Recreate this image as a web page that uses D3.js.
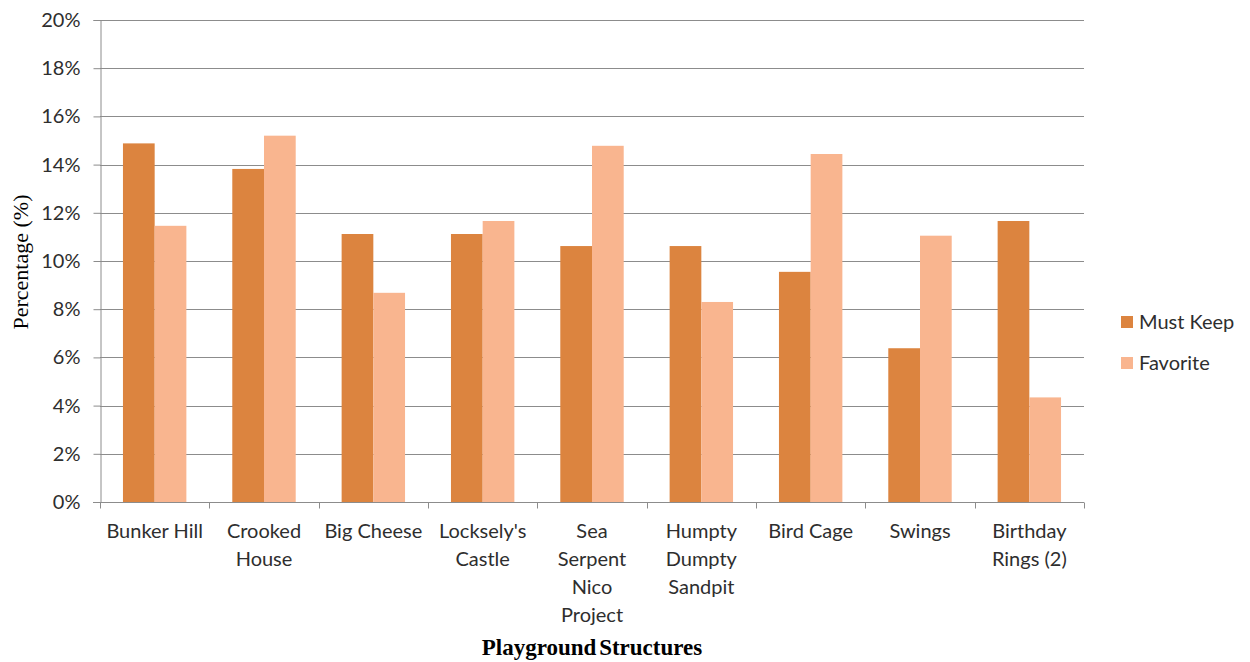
<!DOCTYPE html>
<html>
<head>
<meta charset="utf-8">
<script src="https://cdn.jsdelivr.net/npm/d3@7"></script>
<style>
  body { margin: 0; background: #fff; }
</style>
</head>
<body>
<svg id="chart" width="1250" height="662"></svg>
<script>
var categories = [
    ["Bunker Hill"],
    ["Crooked", "House"],
    ["Big Cheese"],
    ["Locksely's", "Castle"],
    ["Sea", "Serpent", "Nico", "Project"],
    ["Humpty", "Dumpty", "Sandpit"],
    ["Bird Cage"],
    ["Swings"],
    ["Birthday", "Rings (2)"]
];
var seriesNames = ["Must Keep", "Favorite"];
var mustKeep = [14.88, 13.82, 11.12, 11.12, 10.62, 10.62, 9.55, 6.38, 11.66];
var favorite = [11.46, 15.2, 8.68, 11.66, 14.78, 8.3, 14.44, 11.05, 4.34];
var colors = ["#dc843f", "#f9b58f"];
var yTicks = [0, 2, 4, 6, 8, 10, 12, 14, 16, 18, 20];

var labelFont = "Lato, 'Open Sans', sans-serif";
var textColor = "#2e2e2e";
var lineColor = "#8c8c8c";

var svg = d3.select("#chart");
var margin = {left: 100, top: 20, right: 1084, bottom: 502};

var x = d3.scaleBand()
    .domain(d3.range(categories.length))
    .range([margin.left, margin.right])
    .paddingInner(0.42)
    .paddingOuter(0.21);

var xs = d3.scaleBand()
    .domain([0, 1])
    .range([0, x.bandwidth()]);

var y = d3.scaleLinear()
    .domain([0, 20])
    .range([margin.bottom, margin.top]);

// gridlines
svg.append("g")
    .selectAll("line")
    .data(yTicks.slice(1))
    .enter().append("line")
    .attr("x1", margin.left)
    .attr("x2", margin.right)
    .attr("y1", function(d) { return Math.round(y(d)) + 0.5; })
    .attr("y2", function(d) { return Math.round(y(d)) + 0.5; })
    .attr("stroke", lineColor)
    .attr("stroke-width", 1);

// bars
var groups = svg.append("g")
    .selectAll("g")
    .data(categories)
    .enter().append("g")
    .attr("transform", function(d, i) { return "translate(" + x(i) + ",0)"; });

groups.selectAll("rect")
    .data(function(d, i) { return [mustKeep[i], favorite[i]]; })
    .enter().append("rect")
    .attr("x", function(d, j) { return xs(j); })
    .attr("width", xs.bandwidth())
    .attr("y", function(d) { return y(d); })
    .attr("height", function(d) { return y(0) - y(d); })
    .attr("fill", function(d, j) { return colors[j]; });

// y axis
var yAxis = svg.append("g")
    .attr("transform", "translate(" + (margin.left + 0.5) + ",0)")
    .call(d3.axisLeft(y).tickValues(yTicks).tickSize(7).tickPadding(13)
        .tickFormat(function(d) { return d + "%"; }));
yAxis.select(".domain").attr("stroke", lineColor);
yAxis.selectAll(".tick line").attr("stroke", lineColor);
yAxis.selectAll(".tick text")
    .style("font-family", labelFont)
    .style("font-size", "20px")
    .attr("fill", textColor);

// x axis
var xAxis = svg.append("g")
    .attr("transform", "translate(0," + (margin.bottom + 0.5) + ")");
xAxis.append("line")
    .attr("x1", margin.left - 7)
    .attr("x2", margin.right)
    .attr("stroke", lineColor);
xAxis.selectAll(".xt")
    .data(d3.range(categories.length + 1))
    .enter().append("line")
    .attr("class", "xt")
    .attr("x1", function(i) { return Math.round(margin.left + i * x.step()) + 0.5; })
    .attr("x2", function(i) { return Math.round(margin.left + i * x.step()) + 0.5; })
    .attr("y1", 0)
    .attr("y2", 6)
    .attr("stroke", lineColor);

var labels = xAxis.selectAll(".xl")
    .data(categories)
    .enter().append("text")
    .attr("class", "xl")
    .attr("text-anchor", "middle")
    .attr("fill", textColor)
    .style("font-family", labelFont)
    .style("font-size", "20px")
    .attr("transform", function(d, i) { return "translate(" + (x(i) + x.bandwidth() / 2) + ",0)"; });
labels.selectAll("tspan")
    .data(function(d) { return d; })
    .enter().append("tspan")
    .attr("x", 0)
    .attr("y", function(d, k) { return 35 + k * 28; })
    .text(function(d) { return d; });

// axis titles
svg.append("text")
    .attr("transform", "translate(28,262) rotate(-90)")
    .attr("text-anchor", "middle")
    .style("font-family", "'Liberation Serif', 'Times New Roman', serif")
    .style("font-size", "22px")
    .attr("fill", "#000")
    .text("Percentage (%)");

svg.append("text")
    .attr("x", 592)
    .attr("y", 655)
    .attr("text-anchor", "middle")
    .style("font-family", "'Liberation Serif', 'Times New Roman', serif")
    .style("font-size", "23px")
    .style("font-weight", "bold")
    .style("word-spacing", "-3px")
    .attr("fill", "#000")
    .text("Playground Structures");

// legend
var legend = svg.append("g")
    .selectAll("g")
    .data(seriesNames)
    .enter().append("g")
    .attr("transform", function(d, i) { return "translate(1121," + (316 + i * 41) + ")"; });
legend.append("rect")
    .attr("width", 12)
    .attr("height", 12)
    .attr("fill", function(d, i) { return colors[i]; });
legend.append("text")
    .attr("x", 18)
    .attr("y", 13)
    .attr("fill", textColor)
    .style("font-family", labelFont)
    .style("font-size", "20px")
    .text(function(d) { return d; });
</script>
</body>
</html>
